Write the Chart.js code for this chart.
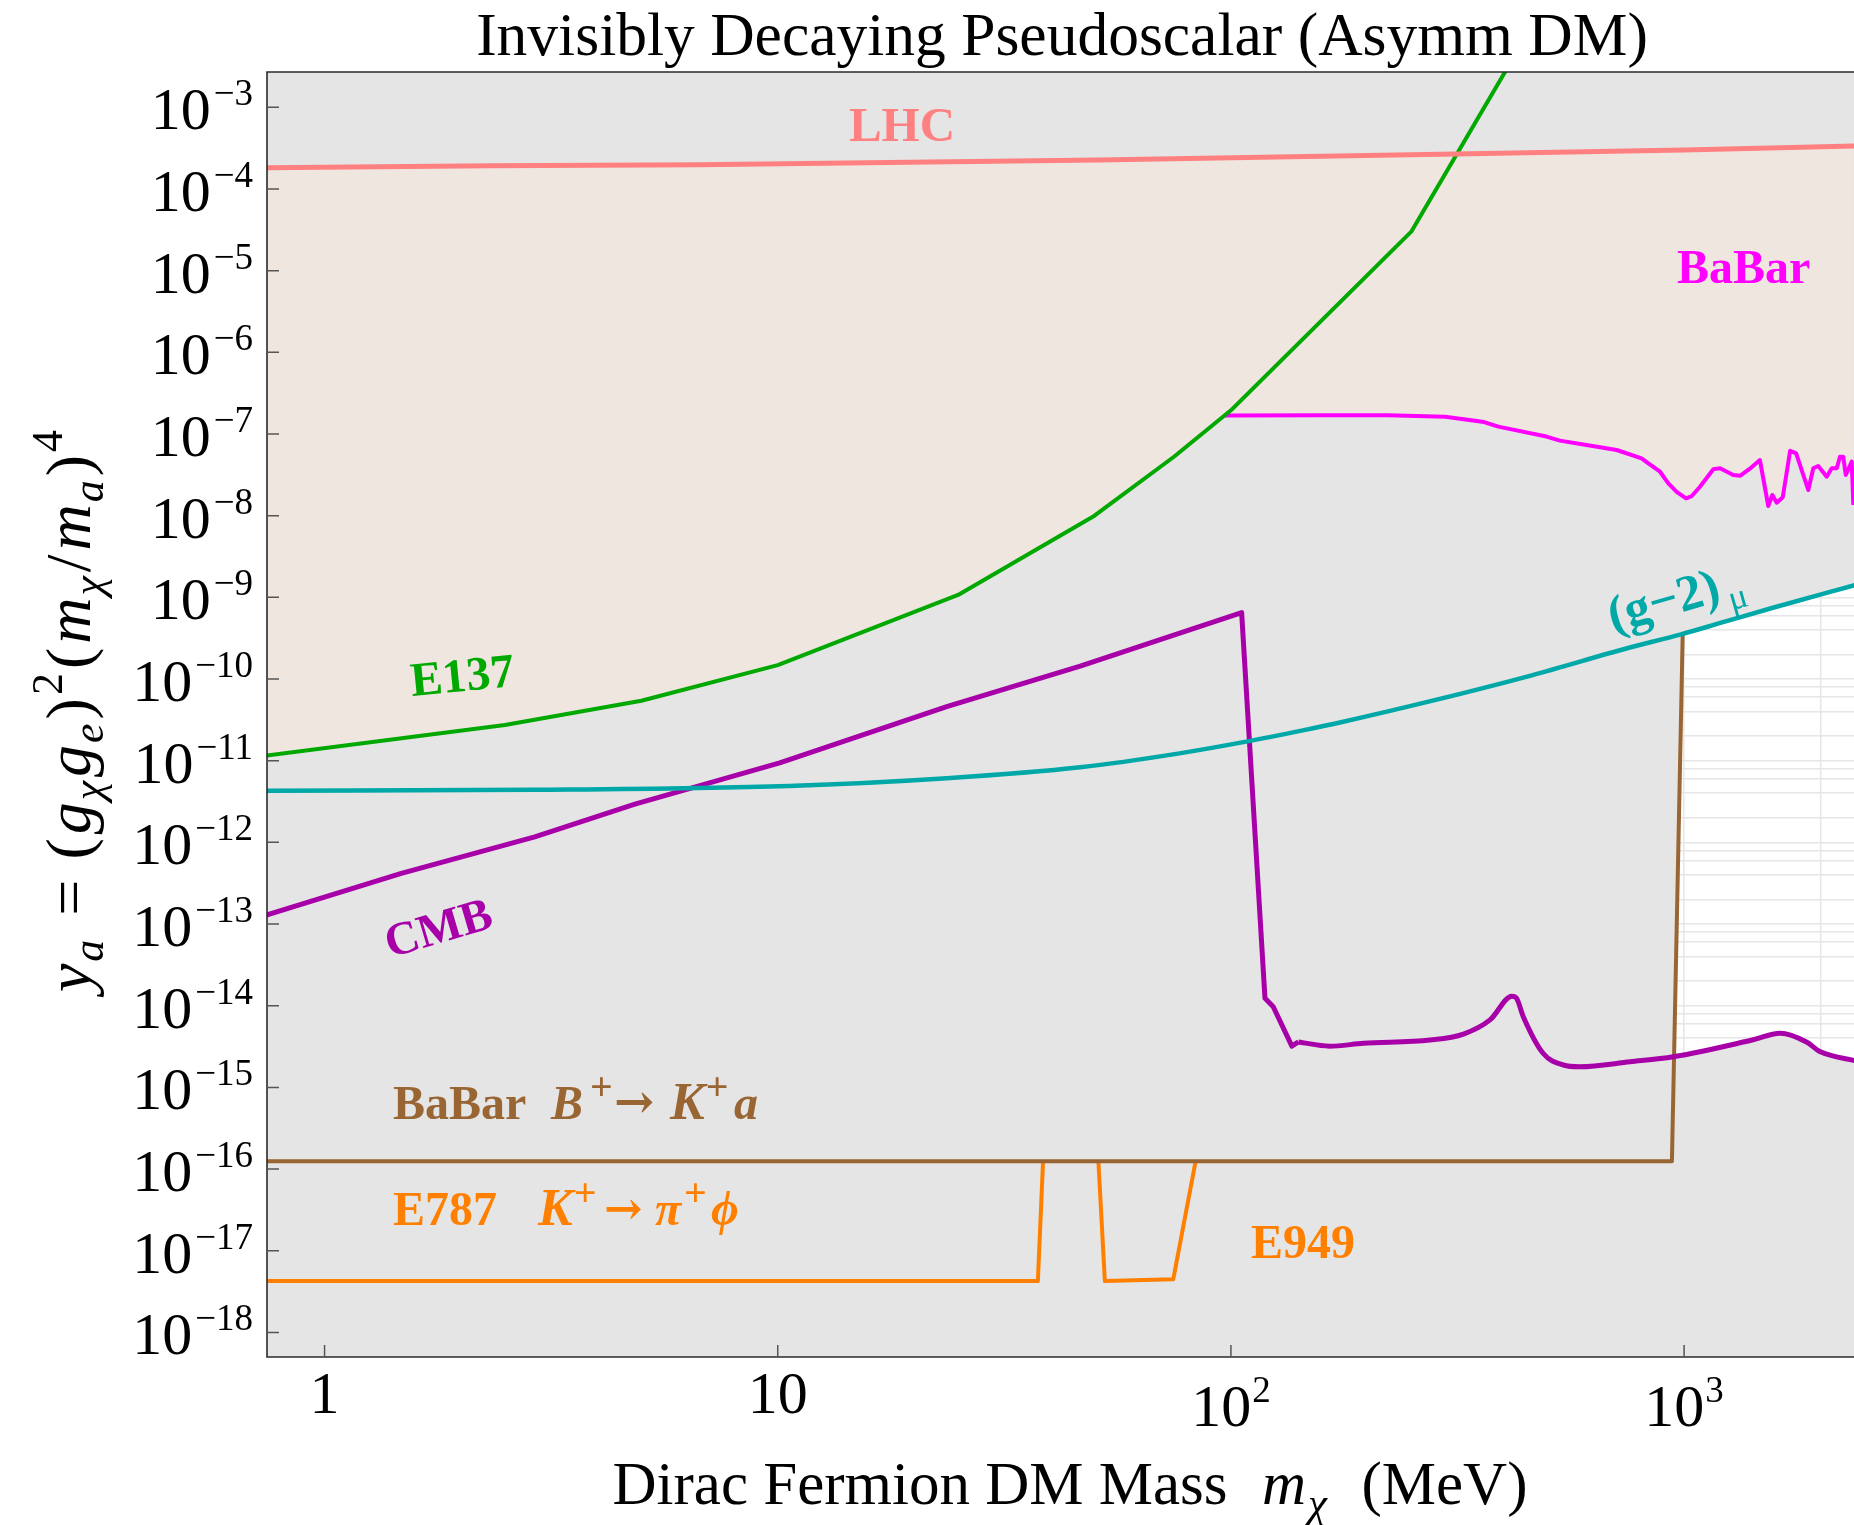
<!DOCTYPE html>
<html>
<head>
<meta charset="utf-8">
<title>Invisibly Decaying Pseudoscalar (Asymm DM)</title>
<script src="https://cdn.jsdelivr.net/npm/chart.js@4.4.1/dist/chart.umd.min.js"></script>
<style>
  html, body { margin: 0; padding: 0; background: #ffffff; }
  canvas { display: block; }
</style>
</head>
<body>
<canvas id="chart" width="1854" height="1525"></canvas>
<script>
// Dark matter mass m_chi in MeV, coupling y_a = (g_chi g_e)^2 (m_chi/m_a)^4

// LHC bound
const lhcMass = [0.74, 2.33, 6.7, 51, 313, 1000, 2400];
const lhcY    = [1.82e-4, 1.93e-4, 1.98e-4, 2.26e-4, 2.68e-4, 2.99e-4, 3.36e-4];

// E137 beam dump
const e137Mass = [0.74, 2.5, 5, 10, 25, 50, 75, 100, 250, 500];
const e137Y    = [1.15e-11, 2.73e-11, 5.42e-11, 1.48e-10, 1.07e-9, 1.0e-8, 5.3e-8, 1.95e-7, 3.0e-5, 2.1e-2];

// BaBar mono-photon
const babarMass = [97, 160, 222, 297, 362, 389, 497, 532, 609, 710, 806, 834, 885, 923, 963, 1010, 1040, 1084,
                   1160, 1200, 1284, 1329, 1409, 1470, 1534, 1566, 1601, 1651, 1714, 1767, 1880, 1928, 1977,
                   2064, 2117, 2172, 2208, 2245, 2274, 2344, 2363];
const babarY    = [1.68e-7, 1.70e-7, 1.70e-7, 1.63e-7, 1.40e-7, 1.23e-7, 9.3e-8, 8.3e-8, 7.33e-8, 6.37e-8, 5.04e-8,
                   4.37e-8, 3.45e-8, 2.49e-8, 1.96e-8, 1.63e-8, 1.74e-8, 2.26e-8, 3.7e-8, 3.8e-8, 3.15e-8, 3.08e-8,
                   3.91e-8, 4.8e-8, 1.31e-8, 1.79e-8, 1.44e-8, 1.68e-8, 6.24e-8, 5.79e-8, 2.06e-8, 3.8e-8, 4.06e-8,
                   3.0e-8, 3.8e-8, 3.8e-8, 5.27e-8, 5.27e-8, 3.15e-8, 4.58e-8, 1.35e-8];

// muon (g-2)
const gm2Mass = [0.74, 2.9, 10.6, 23.6, 46.5, 77, 108, 144, 174, 283, 461, 752, 980, 1224, 1563, 2400];
const gm2Y    = [4.3e-12, 4.4e-12, 4.9e-12, 6.1e-12, 8.3e-12, 1.23e-11, 1.71e-11, 2.35e-11, 2.94e-11, 5.55e-11,
                 1.11e-10, 2.4e-10, 3.5e-10, 5.0e-10, 7.4e-10, 1.43e-9];

// CMB: rising branch and drop
const cmbMass = [0.74, 1.477, 2.91, 4.84, 10.1, 23.6, 46.5, 105.6, 118.9, 124, 136.3, 140.9];
const cmbY    = [1.28e-13, 4.18e-13, 1.17e-12, 2.94e-12, 9.4e-12, 4.58e-11, 1.44e-10, 6.5e-10, 1.23e-14, 9.7e-15,
                 3.2e-15, 3.6e-15];
// CMB: smooth tail
const cmbTailMass = [140.9, 165, 196, 275, 326, 373, 417, 427, 442, 489, 541, 589, 760, 947, 1413, 1629, 1862, 1993, 2400];
const cmbTailY    = [3.6e-15, 3.2e-15, 3.46e-15, 3.8e-15, 4.5e-15, 6.7e-15, 1.31e-14, 1.23e-14, 7.3e-15, 2.6e-15,
                     1.88e-15, 1.79e-15, 2.06e-15, 2.37e-15, 3.8e-15, 4.6e-15, 3.6e-15, 2.75e-15, 2.1e-15];

// BaBar B+ -> K+ a
const bkaMass = [0.74, 940, 993];
const bkaY    = [1.25e-16, 1.25e-16, 3.55e-10];

// E787 and E949 K+ -> pi+ phi
const e787Mass = [0.74, 37.5, 38.5];
const e787Y    = [4.25e-18, 4.25e-18, 1.25e-16];
const e949Mass = [51.0, 52.7, 74.6, 83.6];
const e949Y    = [1.25e-16, 4.25e-18, 4.47e-18, 1.25e-16];

// axis ticks
const xTickValues = [1, 10, 100, 1000];
const xTickLabels = [['1', ''], ['10', ''], ['10', '2'], ['10', '3']];
const yTickExponents = [-3, -4, -5, -6, -7, -8, -9, -10, -11, -12, -13, -14, -15, -16, -17, -18];

const massMin = 0.7464, massMax = 2371;
const yMin = 5.0e-19, yMax = 2.705e-3;

// ---------------------------------------------------------------
const COLORS = {
  lhc: '#FF8080', e137: '#00A800', babar: '#FF00FF', gm2: '#00A8A8',
  cmb: '#A800A8', bka: '#996633', kpi: '#FF8000',
  gray: '#E5E5E5', tan: '#EFE6E0', grid: '#E6E6E6'
};
const SERIF = '"Liberation Serif", "Times New Roman", serif';
const ARROW_FONT = '"DejaVu Serif", serif';

const pts = (xs, ys) => xs.map((x, i) => ({ x, y: ys[i] }));

// lower edge of the shaded band below the LHC line
const envMass = e137Mass.filter(m => m < babarMass[0]).concat(babarMass);
const envY = e137Y.filter((v, i) => e137Mass[i] < babarMass[0]).concat(babarY);

// shading under the rising CMB branch, carried a little into the tail so the two fills overlap
const cmbShadeMass = cmbMass.concat(cmbTailMass.slice(1, 4));
const cmbShadeY = cmbY.concat(cmbTailY.slice(1, 4));

// grid values (decades plus 2,4,6,8 multiples)
const xGridValues = [];
const yGridValues = [];
for (let e = -1; e <= 4; e++) for (const k of [1, 2, 4, 6, 8]) {
  const v = k * Math.pow(10, e);
  if (v > massMin && v < massMax) xGridValues.push(v);
}
for (let e = -19; e <= -2; e++) for (const k of [1, 2, 4, 6, 8]) {
  const v = k * Math.pow(10, e);
  if (v > yMin && v < yMax) yGridValues.push(v);
}

function line(label, xs, ys, color, width, extra) {
  return Object.assign({
    label, data: pts(xs, ys), borderColor: color, borderWidth: width,
    backgroundColor: 'transparent', fill: false, pointRadius: 0, tension: 0,
    clip: 0, order: 1
  }, extra || {});
}
function area(label, xs, ys, fill, extra) {
  return Object.assign({
    label, data: pts(xs, ys), borderColor: 'transparent', borderWidth: 0,
    backgroundColor: COLORS.gray, fill, pointRadius: 0, tension: 0, clip: 0, order: 10
  }, extra || {});
}

const datasets = [
  line('LHC', lhcMass, lhcY, COLORS.lhc, 5, { fill: 9, backgroundColor: COLORS.tan }),   // 0
  line('E137', e137Mass, e137Y, COLORS.e137, 4),                                        // 1
  line('(g-2)', gm2Mass, gm2Y, COLORS.gm2, 4.5, { cubicInterpolationMode: 'monotone' }), // 2
  line('CMB', cmbMass, cmbY, COLORS.cmb, 5),                                            // 3
  line('CMB tail', cmbTailMass, cmbTailY, COLORS.cmb, 5, { cubicInterpolationMode: 'monotone' }), // 4
  line('BaBar', babarMass, babarY, COLORS.babar, 4),                                    // 5
  line('BaBar B->Ka', bkaMass, bkaY, COLORS.bka, 4),                                   // 6
  line('E787', e787Mass, e787Y, COLORS.kpi, 4),                                         // 7
  line('E949', e949Mass, e949Y, COLORS.kpi, 4),                                         // 8
  area('envelope', envMass, envY, false, { order: 5 }),                                 // 9
  area('above g-2', gm2Mass, gm2Y, 'end', { cubicInterpolationMode: 'monotone' }),      // 10
  area('left of B->Ka', gm2Mass, gm2Y, 6, { cubicInterpolationMode: 'monotone' }),      // 11
  area('below CMB', cmbShadeMass, cmbShadeY, 'start'),                                  // 12
  area('below CMB tail', cmbTailMass, cmbTailY, 'start', { cubicInterpolationMode: 'monotone' }) // 13
];

// ---------------------------------------------------------------
function fontOf(r) {
  return (r.i ? 'italic ' : '') + (r.b ? 'bold ' : '') + r.s + 'px ' + (r.f || SERIF);
}
// Draws a sequence of text runs; a run may carry its own offset (at) from the anchor.
function drawRuns(ctx, runs, x, y, opt) {
  const o = Object.assign({ align: 'left', angle: 0, color: '#000' }, opt);
  let w = 0;
  const placed = runs.map(r => {
    ctx.font = fontOf(r);
    const start = (r.at !== undefined) ? r.at : w + (r.gap || 0);
    w = start + ctx.measureText(r.t).width;
    return { r, start };
  });
  const off = o.align === 'center' ? -w / 2 : (o.align === 'right' ? -w : 0);
  ctx.save();
  ctx.translate(x, y);
  ctx.rotate(o.angle * Math.PI / 180);
  ctx.fillStyle = o.color;
  ctx.textAlign = 'left';
  ctx.textBaseline = 'alphabetic';
  for (const p of placed) {
    ctx.font = fontOf(p.r);
    ctx.fillText(p.r.t, off + p.start, p.r.dy || 0);
  }
  ctx.restore();
}

const decor = {
  id: 'decor',
  afterDraw(chart) {
    const { ctx, chartArea: a, scales } = chart;
    const xs = scales.x, ys = scales.y;
    ctx.save();

    // frame
    ctx.strokeStyle = '#2a2a2a';
    ctx.lineWidth = 1.6;
    ctx.beginPath();
    ctx.moveTo(a.right + 2, a.top);
    ctx.lineTo(a.left, a.top);
    ctx.lineTo(a.left, a.bottom);
    ctx.lineTo(a.right + 2, a.bottom);
    ctx.stroke();

    // inward tick marks
    ctx.strokeStyle = '#555555';
    ctx.lineWidth = 1.5;
    ctx.beginPath();
    for (const v of xTickValues) {
      const px = xs.getPixelForValue(v);
      ctx.moveTo(px, a.bottom);
      ctx.lineTo(px, a.bottom - 12);
    }
    for (const e of yTickExponents) {
      const py = ys.getPixelForValue(Math.pow(10, e));
      ctx.moveTo(a.left, py);
      ctx.lineTo(a.left + 12, py);
    }
    ctx.stroke();

    // tick labels
    xTickValues.forEach((v, i) => {
      const [base, sup] = xTickLabels[i];
      const px = xs.getPixelForValue(v);
      const runs = [{ t: base, s: 60 }];
      if (sup) runs.push({ t: sup, s: 37, dy: -24, gap: 1 });
      drawRuns(ctx, runs, px, a.bottom + (sup ? 69 : 56), { align: 'center' });
    });
    for (const e of yTickExponents) {
      const py = ys.getPixelForValue(Math.pow(10, e));
      drawRuns(ctx, [{ t: '10', s: 60 }, { t: '\u2212' + Math.abs(e), s: 37, dy: -24, gap: 3 }],
        a.left - 14, py + 22, { align: 'right' });
    }

    // title
    drawRuns(ctx, [{ t: 'Invisibly Decaying Pseudoscalar (Asymm DM)', s: 61.5 }], 1062, 55, { align: 'center' });

    // x-axis title
    drawRuns(ctx, [
      { t: 'Dirac Fermion DM Mass  ', s: 61 },
      { t: 'm', s: 61, i: true, gap: 4 },
      { t: '\u03C7', s: 43, i: true, dy: 13, gap: 2 },
      { t: '  (MeV)', s: 61, gap: 4 }
    ], 1070, 1504, { align: 'center' });

    // y-axis title
    const g = 4;
    drawRuns(ctx, [
      { t: 'y', s: 64, i: true },
      { t: 'a', s: 44, i: true, dy: 13, gap: 2 },
      { t: ' = ', s: 64, gap: g + 4 },
      { t: '(', s: 64, gap: g },
      { t: 'g', s: 64, i: true, gap: g },
      { t: '\u03C7', s: 44, i: true, dy: 13, gap: 2 },
      { t: 'g', s: 64, i: true, gap: g },
      { t: 'e', s: 44, i: true, dy: 13, gap: 2 },
      { t: ')', s: 64, gap: g },
      { t: '2', s: 44, dy: -28, gap: 3 },
      { t: '(', s: 64, gap: g },
      { t: 'm', s: 64, i: true, gap: g },
      { t: '\u03C7', s: 44, i: true, dy: 13, gap: 2 },
      { t: '/', s: 64, gap: g },
      { t: 'm', s: 64, i: true, gap: g },
      { t: 'a', s: 44, i: true, dy: 13, gap: 2 },
      { t: ')', s: 64, gap: g },
      { t: '4', s: 44, dy: -28, gap: 3 }
    ], 90, 711, { align: 'center', angle: -90 });

    // curve labels
    drawRuns(ctx, [{ t: 'LHC', s: 49, b: true }], 902, 141, { align: 'center', color: COLORS.lhc });
    drawRuns(ctx, [{ t: 'BaBar', s: 48, b: true }], 1677, 283, { color: COLORS.babar });
    drawRuns(ctx, [{ t: 'E137', s: 48, b: true }], 412, 696, { angle: -5.6, color: COLORS.e137 });
    drawRuns(ctx, [{ t: 'CMB', s: 47, b: true }], 390, 958, { angle: -16.5, color: COLORS.cmb });
    drawRuns(ctx, [
      { t: '(g\u22122)', s: 51, b: true },
      { t: '\u03BC', s: 35, dy: 12, gap: 6 }
    ], 1613, 632, { angle: -16, color: COLORS.gm2 });
    drawRuns(ctx, [
      { t: 'BaBar', s: 48, b: true },
      { t: 'B', s: 48, b: true, i: true, at: 158 },
      { t: '+', s: 40, b: true, dy: -19, at: 197 },
      { t: '\u2192', s: 48, b: true, f: ARROW_FONT, dy: -1, at: 221 },
      { t: 'K', s: 52, b: true, i: true, at: 277 },
      { t: '+', s: 40, b: true, dy: -19, gap: 1 },
      { t: 'a', s: 48, b: true, i: true, at: 341 }
    ], 393, 1119, { color: COLORS.bka });
    drawRuns(ctx, [
      { t: 'E787', s: 48, b: true },
      { t: 'K', s: 52, b: true, i: true, at: 145 },
      { t: '+', s: 40, b: true, dy: -19, gap: 1 },
      { t: '\u2192', s: 46, b: true, f: ARROW_FONT, dy: -1, at: 211 },
      { t: '\u03C0', s: 48, b: true, i: true, at: 262 },
      { t: '+', s: 40, b: true, dy: -19, at: 291 },
      { t: '\u03D5', s: 48, b: true, i: true, at: 318 }
    ], 393, 1225, { color: COLORS.kpi });
    drawRuns(ctx, [{ t: 'E949', s: 48, b: true }], 1251, 1258, { color: COLORS.kpi });

    ctx.restore();
  }
};

// pin the scale limits exactly (tick generation would otherwise round them)
function pinLimits(s, lo, hi, grid) {
  s.min = lo;
  s.max = hi;
  s.ticks = grid.map(v => ({ value: v }));
}

new Chart(document.getElementById('chart'), {
  type: 'line',
  data: { datasets },
  options: {
    responsive: false,
    animation: false,
    devicePixelRatio: 1,
    events: [],
    layout: { padding: { left: 0, right: 0, top: 72, bottom: 168 } },
    elements: {
      point: { radius: 0 },
      line: { borderJoinStyle: 'round', borderCapStyle: 'butt' }
    },
    plugins: {
      legend: { display: false },
      title: { display: false },
      tooltip: { enabled: false },
      filler: { drawTime: 'beforeDatasetsDraw', propagate: false }
    },
    scales: {
      x: {
        type: 'logarithmic', position: 'bottom', min: massMin, max: massMax,
        ticks: { display: false },
        border: { display: false },
        grid: { color: COLORS.grid, lineWidth: 1.5, drawTicks: false },
        afterBuildTicks: s => pinLimits(s, massMin, massMax, xGridValues),
        afterFit: s => { s.height = 0; }
      },
      y: {
        type: 'logarithmic', position: 'left', min: yMin, max: yMax,
        ticks: { display: false },
        border: { display: false },
        grid: { color: COLORS.grid, lineWidth: 1.5, drawTicks: false },
        afterBuildTicks: s => pinLimits(s, yMin, yMax, yGridValues),
        afterFit: s => { s.width = 267; }
      }
    }
  },
  plugins: [decor]
});
</script>
</body>
</html>
